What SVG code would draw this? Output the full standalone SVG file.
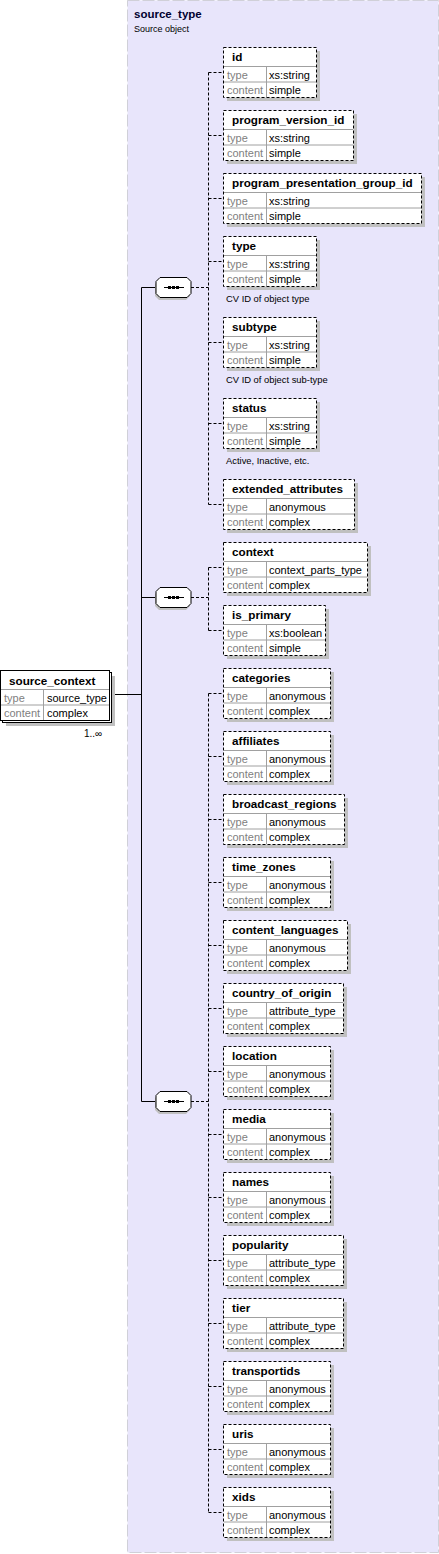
<svg xmlns="http://www.w3.org/2000/svg" width="439" height="1554" viewBox="0 0 439 1554">
<style>
text{font-family:"Liberation Sans",Arial,sans-serif}
.t{font-size:11.7px;font-weight:bold;fill:#000}
.l{font-size:11px;fill:#808080}
.v{font-size:11px;fill:#000}
.d{font-size:9.4px;fill:#000}
.sh{fill:#c0c0c0}
.box{fill:#fff;stroke:#000;stroke-width:1;stroke-dasharray:3,2}
.sbox{fill:#fff;stroke:#000;stroke-width:1}
.sep{fill:none;stroke:#a0a0a0;stroke-width:1}
.dc{fill:none;stroke:#000;stroke-width:1;stroke-dasharray:3,2}
.sc{fill:none;stroke:#000;stroke-width:1}
</style>
<defs>
<g id="seq">
<polygon points="3,3 30,3 34,7 34,19 30,23 3,23 -1,19 -1,7" fill="#c0c0c0"/>
<polygon points="4,0.5 31,0.5 35,4.5 35,16.5 31,20.5 4,20.5 0,16.5 0,4.5" fill="#fff" stroke="#000"/>
<path d="M8 10.5H28" stroke="#000"/>
<rect x="12" y="9" width="3" height="3" fill="#000"/>
<rect x="16" y="9" width="3" height="3" fill="#000"/>
<rect x="20" y="9" width="3" height="3" fill="#000"/>
</g>
</defs>
<g id="complexType-bg">
<rect x="127.5" y="0.5" width="311" height="1552" fill="#e8e5fb" stroke="#d0d0d8" stroke-dasharray="12,3"/>
<text x="134" y="18" style="font-size:11.5px;font-weight:bold;fill:#000030">source_type</text>
<text x="134" y="31.5" style="font-size:9px;fill:#000">Source object</text>
</g>
<g id="connectors">
<path class="sc" d="M110 694.5H141.5M141.5 287.5V1101.5M141.5 287.5H156M141.5 597.5H156M141.5 1101.5H156"/>
<path class="dc" d="M191 287.5H208.5M208.5 72.5V504.5M208.5 72.5H223M208.5 135.5H223M208.5 198.5H223M208.5 261.5H223M208.5 342.5H223M208.5 423.5H223M208.5 504.5H223"/>
<path class="dc" d="M191 597.5H208.5M208.5 567.5V630.5M208.5 567.5H223M208.5 630.5H223"/>
<path class="dc" d="M191 1101.5H208.5M208.5 693.5V1512.5M208.5 693.5H223M208.5 756.5H223M208.5 819.5H223M208.5 882.5H223M208.5 945.5H223M208.5 1008.5H223M208.5 1071.5H223M208.5 1134.5H223M208.5 1197.5H223M208.5 1260.5H223M208.5 1323.5H223M208.5 1386.5H223M208.5 1449.5H223M208.5 1512.5H223"/>
</g>
<g id="seq1" transform="translate(156,277)"><use href="#seq"/></g>
<g id="seq2" transform="translate(156,587)"><use href="#seq"/></g>
<g id="seq3" transform="translate(156,1091)"><use href="#seq"/></g>
<g id="source_context" transform="translate(0,670)">
<rect class="sh" x="6" y="6" width="109" height="50"/>
<rect class="sbox" x="2.5" y="2.5" width="109" height="50"/>
<rect class="sbox" x="0.5" y="0.5" width="109" height="50"/>
<path class="sep" d="M1 19.5H109M1 35H109M43.5 20V50"/>
<text class="t" x="9" y="14.5">source_context</text>
<text class="l" x="4" y="31.5">type</text>
<text class="v" x="47" y="31.5">source_type</text>
<text class="l" x="4" y="47">content</text>
<text class="v" x="47" y="47">complex</text>
<text x="84" y="67" style="font-size:10px;fill:#000">1..∞</text>
</g>
<g id="n-id" transform="translate(223,47)">
<rect class="sh" x="4" y="4" width="93" height="50"/><rect class="box" x="0.5" y="0.5" width="93" height="50"/>
<path class="sep" d="M1 19.5H93M1 35H93M43.5 20V50"/>
<text class="t" x="9" y="14">id</text><text class="l" x="4" y="31.5">type</text><text class="v" x="46" y="31.5">xs:string</text><text class="l" x="4" y="47">content</text><text class="v" x="46" y="47">simple</text>
</g>
<g id="n-program_version_id" transform="translate(223,110)">
<rect class="sh" x="4" y="4" width="130" height="50"/><rect class="box" x="0.5" y="0.5" width="130" height="50"/>
<path class="sep" d="M1 19.5H130M1 35H130M43.5 20V50"/>
<text class="t" x="9" y="14">program_version_id</text><text class="l" x="4" y="31.5">type</text><text class="v" x="46" y="31.5">xs:string</text><text class="l" x="4" y="47">content</text><text class="v" x="46" y="47">simple</text>
</g>
<g id="n-program_presentation_group_id" transform="translate(223,173)">
<rect class="sh" x="4" y="4" width="198" height="50"/><rect class="box" x="0.5" y="0.5" width="198" height="50"/>
<path class="sep" d="M1 19.5H198M1 35H198M43.5 20V50"/>
<text class="t" x="9" y="14">program_presentation_group_id</text><text class="l" x="4" y="31.5">type</text><text class="v" x="46" y="31.5">xs:string</text><text class="l" x="4" y="47">content</text><text class="v" x="46" y="47">simple</text>
</g>
<g id="n-type" transform="translate(223,236)">
<rect class="sh" x="4" y="4" width="93" height="50"/><rect class="box" x="0.5" y="0.5" width="93" height="50"/>
<path class="sep" d="M1 19.5H93M1 35H93M43.5 20V50"/>
<text class="t" x="9" y="14">type</text><text class="l" x="4" y="31.5">type</text><text class="v" x="46" y="31.5">xs:string</text><text class="l" x="4" y="47">content</text><text class="v" x="46" y="47">simple</text>
<text class="d" x="3" y="66">CV ID of object type</text>
</g>
<g id="n-subtype" transform="translate(223,317)">
<rect class="sh" x="4" y="4" width="93" height="50"/><rect class="box" x="0.5" y="0.5" width="93" height="50"/>
<path class="sep" d="M1 19.5H93M1 35H93M43.5 20V50"/>
<text class="t" x="9" y="14">subtype</text><text class="l" x="4" y="31.5">type</text><text class="v" x="46" y="31.5">xs:string</text><text class="l" x="4" y="47">content</text><text class="v" x="46" y="47">simple</text>
<text class="d" x="3" y="66">CV ID of object sub-type</text>
</g>
<g id="n-status" transform="translate(223,398)">
<rect class="sh" x="4" y="4" width="93" height="50"/><rect class="box" x="0.5" y="0.5" width="93" height="50"/>
<path class="sep" d="M1 19.5H93M1 35H93M43.5 20V50"/>
<text class="t" x="9" y="14">status</text><text class="l" x="4" y="31.5">type</text><text class="v" x="46" y="31.5">xs:string</text><text class="l" x="4" y="47">content</text><text class="v" x="46" y="47">simple</text>
<text class="d" x="3" y="66">Active, Inactive, etc.</text>
</g>
<g id="n-extended_attributes" transform="translate(223,479)">
<rect class="sh" x="4" y="4" width="131" height="50"/><rect class="box" x="0.5" y="0.5" width="131" height="50"/>
<path class="sep" d="M1 19.5H131M1 35H131M43.5 20V50"/>
<text class="t" x="9" y="14">extended_attributes</text><text class="l" x="4" y="31.5">type</text><text class="v" x="46" y="31.5">anonymous</text><text class="l" x="4" y="47">content</text><text class="v" x="46" y="47">complex</text>
</g>
<g id="n-context" transform="translate(223,542)">
<rect class="sh" x="4" y="4" width="144" height="50"/><rect class="box" x="0.5" y="0.5" width="144" height="50"/>
<path class="sep" d="M1 19.5H144M1 35H144M43.5 20V50"/>
<text class="t" x="9" y="14">context</text><text class="l" x="4" y="31.5">type</text><text class="v" x="46" y="31.5">context_parts_type</text><text class="l" x="4" y="47">content</text><text class="v" x="46" y="47">complex</text>
</g>
<g id="n-is_primary" transform="translate(223,605)">
<rect class="sh" x="4" y="4" width="102" height="50"/><rect class="box" x="0.5" y="0.5" width="102" height="50"/>
<path class="sep" d="M1 19.5H102M1 35H102M43.5 20V50"/>
<text class="t" x="9" y="14">is_primary</text><text class="l" x="4" y="31.5">type</text><text class="v" x="46" y="31.5">xs:boolean</text><text class="l" x="4" y="47">content</text><text class="v" x="46" y="47">simple</text>
</g>
<g id="n-categories" transform="translate(223,668)">
<rect class="sh" x="4" y="4" width="107" height="50"/><rect class="box" x="0.5" y="0.5" width="107" height="50"/>
<path class="sep" d="M1 19.5H107M1 35H107M43.5 20V50"/>
<text class="t" x="9" y="14">categories</text><text class="l" x="4" y="31.5">type</text><text class="v" x="46" y="31.5">anonymous</text><text class="l" x="4" y="47">content</text><text class="v" x="46" y="47">complex</text>
</g>
<g id="n-affiliates" transform="translate(223,731)">
<rect class="sh" x="4" y="4" width="107" height="50"/><rect class="box" x="0.5" y="0.5" width="107" height="50"/>
<path class="sep" d="M1 19.5H107M1 35H107M43.5 20V50"/>
<text class="t" x="9" y="14">affiliates</text><text class="l" x="4" y="31.5">type</text><text class="v" x="46" y="31.5">anonymous</text><text class="l" x="4" y="47">content</text><text class="v" x="46" y="47">complex</text>
</g>
<g id="n-broadcast_regions" transform="translate(223,794)">
<rect class="sh" x="4" y="4" width="121" height="50"/><rect class="box" x="0.5" y="0.5" width="121" height="50"/>
<path class="sep" d="M1 19.5H121M1 35H121M43.5 20V50"/>
<text class="t" x="9" y="14">broadcast_regions</text><text class="l" x="4" y="31.5">type</text><text class="v" x="46" y="31.5">anonymous</text><text class="l" x="4" y="47">content</text><text class="v" x="46" y="47">complex</text>
</g>
<g id="n-time_zones" transform="translate(223,857)">
<rect class="sh" x="4" y="4" width="107" height="50"/><rect class="box" x="0.5" y="0.5" width="107" height="50"/>
<path class="sep" d="M1 19.5H107M1 35H107M43.5 20V50"/>
<text class="t" x="9" y="14">time_zones</text><text class="l" x="4" y="31.5">type</text><text class="v" x="46" y="31.5">anonymous</text><text class="l" x="4" y="47">content</text><text class="v" x="46" y="47">complex</text>
</g>
<g id="n-content_languages" transform="translate(223,920)">
<rect class="sh" x="4" y="4" width="124" height="50"/><rect class="box" x="0.5" y="0.5" width="124" height="50"/>
<path class="sep" d="M1 19.5H124M1 35H124M43.5 20V50"/>
<text class="t" x="9" y="14">content_languages</text><text class="l" x="4" y="31.5">type</text><text class="v" x="46" y="31.5">anonymous</text><text class="l" x="4" y="47">content</text><text class="v" x="46" y="47">complex</text>
</g>
<g id="n-country_of_origin" transform="translate(223,983)">
<rect class="sh" x="4" y="4" width="120" height="50"/><rect class="box" x="0.5" y="0.5" width="120" height="50"/>
<path class="sep" d="M1 19.5H120M1 35H120M43.5 20V50"/>
<text class="t" x="9" y="14">country_of_origin</text><text class="l" x="4" y="31.5">type</text><text class="v" x="46" y="31.5">attribute_type</text><text class="l" x="4" y="47">content</text><text class="v" x="46" y="47">complex</text>
</g>
<g id="n-location" transform="translate(223,1046)">
<rect class="sh" x="4" y="4" width="107" height="50"/><rect class="box" x="0.5" y="0.5" width="107" height="50"/>
<path class="sep" d="M1 19.5H107M1 35H107M43.5 20V50"/>
<text class="t" x="9" y="14">location</text><text class="l" x="4" y="31.5">type</text><text class="v" x="46" y="31.5">anonymous</text><text class="l" x="4" y="47">content</text><text class="v" x="46" y="47">complex</text>
</g>
<g id="n-media" transform="translate(223,1109)">
<rect class="sh" x="4" y="4" width="107" height="50"/><rect class="box" x="0.5" y="0.5" width="107" height="50"/>
<path class="sep" d="M1 19.5H107M1 35H107M43.5 20V50"/>
<text class="t" x="9" y="14">media</text><text class="l" x="4" y="31.5">type</text><text class="v" x="46" y="31.5">anonymous</text><text class="l" x="4" y="47">content</text><text class="v" x="46" y="47">complex</text>
</g>
<g id="n-names" transform="translate(223,1172)">
<rect class="sh" x="4" y="4" width="107" height="50"/><rect class="box" x="0.5" y="0.5" width="107" height="50"/>
<path class="sep" d="M1 19.5H107M1 35H107M43.5 20V50"/>
<text class="t" x="9" y="14">names</text><text class="l" x="4" y="31.5">type</text><text class="v" x="46" y="31.5">anonymous</text><text class="l" x="4" y="47">content</text><text class="v" x="46" y="47">complex</text>
</g>
<g id="n-popularity" transform="translate(223,1235)">
<rect class="sh" x="4" y="4" width="120" height="50"/><rect class="box" x="0.5" y="0.5" width="120" height="50"/>
<path class="sep" d="M1 19.5H120M1 35H120M43.5 20V50"/>
<text class="t" x="9" y="14">popularity</text><text class="l" x="4" y="31.5">type</text><text class="v" x="46" y="31.5">attribute_type</text><text class="l" x="4" y="47">content</text><text class="v" x="46" y="47">complex</text>
</g>
<g id="n-tier" transform="translate(223,1298)">
<rect class="sh" x="4" y="4" width="120" height="50"/><rect class="box" x="0.5" y="0.5" width="120" height="50"/>
<path class="sep" d="M1 19.5H120M1 35H120M43.5 20V50"/>
<text class="t" x="9" y="14">tier</text><text class="l" x="4" y="31.5">type</text><text class="v" x="46" y="31.5">attribute_type</text><text class="l" x="4" y="47">content</text><text class="v" x="46" y="47">complex</text>
</g>
<g id="n-transportids" transform="translate(223,1361)">
<rect class="sh" x="4" y="4" width="107" height="50"/><rect class="box" x="0.5" y="0.5" width="107" height="50"/>
<path class="sep" d="M1 19.5H107M1 35H107M43.5 20V50"/>
<text class="t" x="9" y="14">transportids</text><text class="l" x="4" y="31.5">type</text><text class="v" x="46" y="31.5">anonymous</text><text class="l" x="4" y="47">content</text><text class="v" x="46" y="47">complex</text>
</g>
<g id="n-uris" transform="translate(223,1424)">
<rect class="sh" x="4" y="4" width="107" height="50"/><rect class="box" x="0.5" y="0.5" width="107" height="50"/>
<path class="sep" d="M1 19.5H107M1 35H107M43.5 20V50"/>
<text class="t" x="9" y="14">uris</text><text class="l" x="4" y="31.5">type</text><text class="v" x="46" y="31.5">anonymous</text><text class="l" x="4" y="47">content</text><text class="v" x="46" y="47">complex</text>
</g>
<g id="n-xids" transform="translate(223,1487)">
<rect class="sh" x="4" y="4" width="107" height="50"/><rect class="box" x="0.5" y="0.5" width="107" height="50"/>
<path class="sep" d="M1 19.5H107M1 35H107M43.5 20V50"/>
<text class="t" x="9" y="14">xids</text><text class="l" x="4" y="31.5">type</text><text class="v" x="46" y="31.5">anonymous</text><text class="l" x="4" y="47">content</text><text class="v" x="46" y="47">complex</text>
</g>
</svg>
